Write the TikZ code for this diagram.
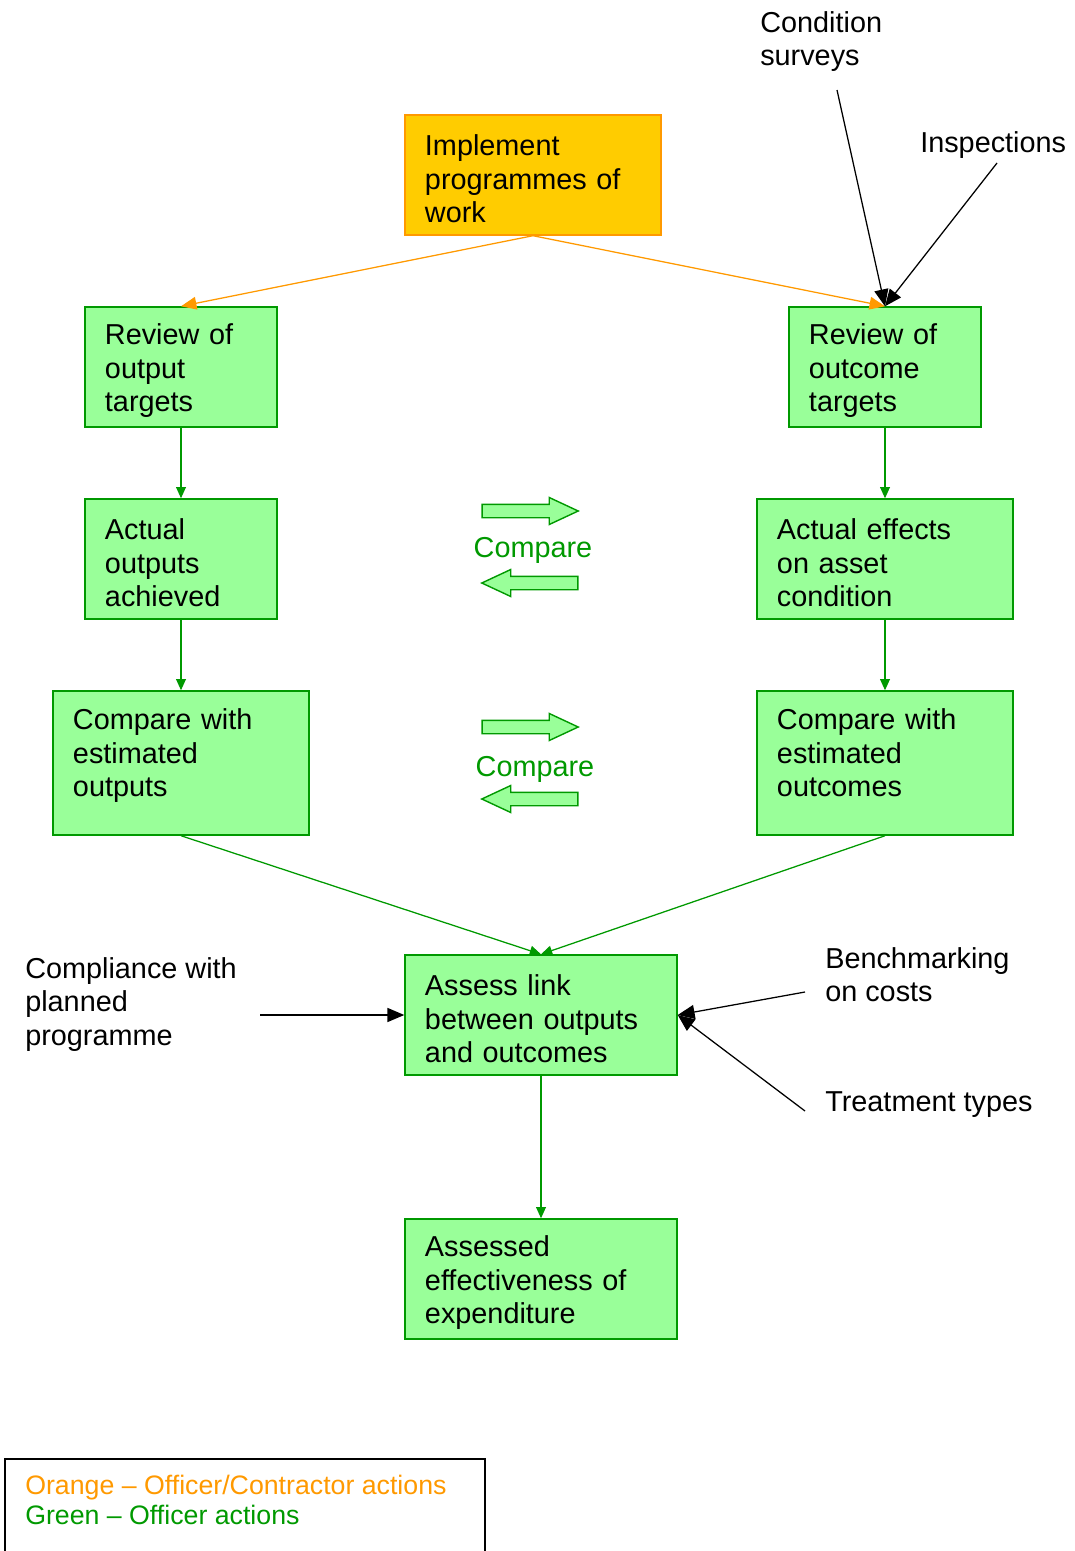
\documentclass[tikz,border=0pt]{standalone}
\usepackage{fontspec}
\setmainfont{Liberation Sans}
\usetikzlibrary{arrows.meta, shapes.arrows}
\definecolor{ActGreen}{RGB}{0,153,0}
\definecolor{ActLightGreen}{RGB}{153,255,153}
\definecolor{ActOrange}{RGB}{255,153,0}
\definecolor{ActGold}{RGB}{255,204,0}
\newcommand{\toppad}{\rule{0pt}{0.72cm}}
\newcommand{\tallpad}{\rule[-0.7cm]{0pt}{0.7cm}}

\begin{document}
\begin{tikzpicture}[x=0.025cm, y=-0.025cm, every node/.style={font=\fontsize{20.5}{23.8}\selectfont},
  box/.style={draw=ActGreen, line width=1pt, fill=ActLightGreen, inner xsep=0.5cm, align=left, minimum height=3cm},
  lbl/.style={anchor=north west, inner sep=0pt, align=left},
  gflow/.style={-{Triangle[length=8pt, width=7pt]}, line width=0.9pt, ActGreen},
  oflow/.style={-{Triangle[length=11pt, width=9pt]}, line width=0.9pt, ActOrange},
  kflow/.style={-{Triangle[length=12pt, width=10pt]}, line width=0.9pt, black},
  cmparrow/.style={single arrow, draw=ActGreen, fill=ActLightGreen, line width=1pt, minimum height=2.4cm, minimum width=0.6cm, inner sep=0.15cm, single arrow head extend=0.17cm, single arrow tip angle=50}]
\useasboundingbox (0,0) rectangle (1074,1551);
\node[box, draw=ActOrange, fill=ActGold, text width=5.4cm] (impl) at (533,175) {\toppad Implement\\programmes of\\work};
\node[box, text width=3.8cm] (rvo) at (181,367) {\toppad Review of\\output\\targets};
\node[box, text width=3.8cm] (rvc) at (885,367) {\toppad Review of\\outcome\\targets};
\node[box, text width=3.8cm] (aout) at (181,559) {\toppad Actual\\outputs\\achieved};
\node[box, text width=5.4cm] (aeff) at (885,559) {\toppad Actual effects\\on asset\\condition};
\node[box, text width=5.4cm, minimum height=3.6cm] (cwo) at (181,763) {\toppad Compare with\\estimated\\outputs\tallpad};
\node[box, text width=5.4cm, minimum height=3.6cm] (cwc) at (885,763) {\toppad Compare with\\estimated\\outcomes\tallpad};
\node[box, text width=5.8cm] (assess) at (541,1015) {\toppad Assess link\\between outputs\\and outcomes};
\node[box, text width=5.8cm] (effect) at (541,1279) {\toppad Assessed\\effectiveness of\\expenditure};
\node[cmparrow] (cmpR1) at (523,511) {};
\node[anchor=base, text=ActGreen] (cmp1) at (533,557) {Compare};
\node[cmparrow, shape border rotate=180] (cmpL1) at (537,583) {};
\node[cmparrow] (cmpR2) at (523,727) {};
\node[anchor=base, text=ActGreen] (cmp2) at (535,776) {Compare};
\node[cmparrow, shape border rotate=180] (cmpL2) at (537,799) {};
\node[lbl] (surveys) at (760,11) {Condition\\surveys};
\node[lbl] (insp) at (920,131) {Inspections};
\node[lbl] (compl) at (25,957) {Compliance with\\planned\\programme};
\node[lbl] (bench) at (825,947) {Benchmarking\\on costs};
\node[lbl] (treat) at (825,1091) {Treatment types};
\coordinate (surveysEnd) at (837,90);
\coordinate (inspEnd) at (997,163);
\coordinate (complEnd) at (260,1015);
\coordinate (benchEnd) at (805,992);
\coordinate (treatEnd) at (805,1111);
\draw[oflow] (impl.south) -- (rvo.north);
\draw[oflow] (impl.south) -- (rvc.north);
\draw[gflow] (rvo) -- (aout);
\draw[gflow] (aout) -- (cwo);
\draw[gflow] (rvc) -- (aeff);
\draw[gflow] (aeff) -- (cwc);
\draw[gflow] (cwo.south) -- (assess.north);
\draw[gflow] (cwc.south) -- (assess.north);
\draw[gflow] (assess) -- (effect);
\draw[kflow] (surveysEnd) -- (rvc.north);
\draw[kflow] (inspEnd) -- (rvc.north);
\draw[kflow] (complEnd) -- (assess.west);
\draw[kflow] (benchEnd) -- (assess.east);
\draw[kflow] (treatEnd) -- (assess.east);
\draw[line width=1.5pt] (5,1560) |- (485,1459) -- (485,1560);
\node[lbl, font=\fontsize{19}{21.3}\selectfont] (legend) at (25,1475) {\textcolor{ActOrange}{Orange – Officer/Contractor actions}\\\textcolor{ActGreen}{Green – Officer actions}};
\end{tikzpicture}
\end{document}
